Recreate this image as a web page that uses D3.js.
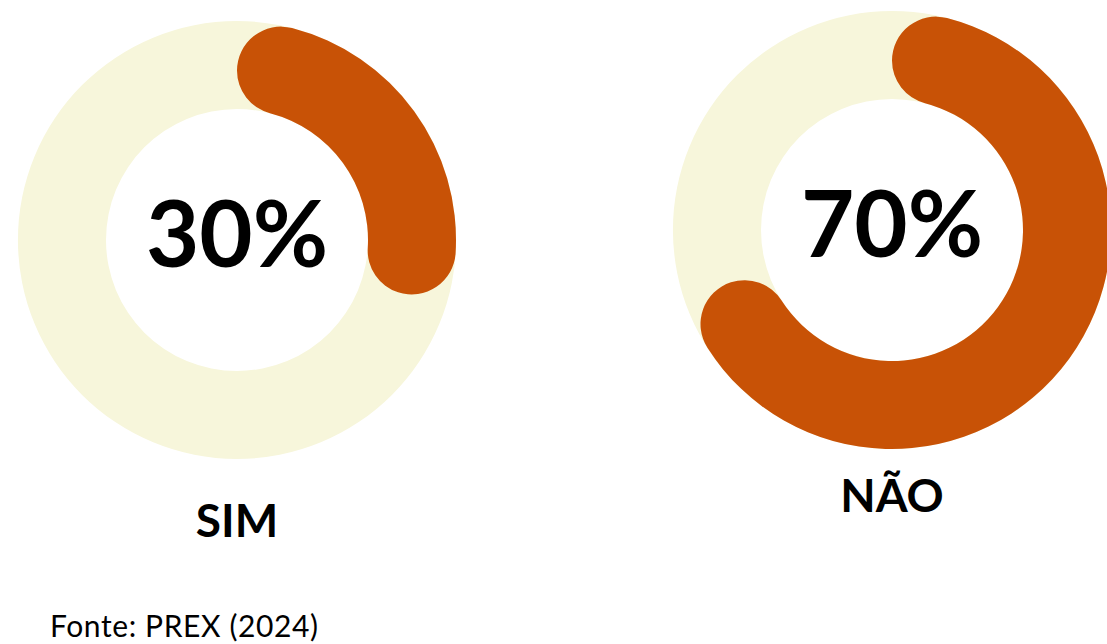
<!DOCTYPE html>
<html>
<head>
<meta charset="utf-8">
<script src="https://cdn.jsdelivr.net/npm/d3@7"></script>
<style>
  html, body { margin: 0; padding: 0; background: #ffffff; overflow: hidden; }
  svg { display: block; }
</style>
</head>
<body>
<script>
// ---- data ----
const categories = ["SIM", "NÃO"];
const values = [30, 70];           // percentages
const total = 100;
const sourceText = "Fonte: PREX (2024)";

// ---- layout ----
const W = 1107, H = 644;
const centers = [{x: 237, y: 240, labelY: 537, valueY: 267},
                 {x: 892, y: 230, labelY: 512, valueY: 257}];
const outerR = 219, innerR = 131;
const colorTrack = "#F7F6DB";
const colorValue = "#C85206";
const fontFam = "Lato, 'Open Sans', sans-serif";

const svg = d3.select("body").append("svg")
  .attr("width", W).attr("height", H);

const angle = d3.scaleLinear().domain([0, total]).range([0, 2 * Math.PI]);

const arc = d3.arc()
  .innerRadius(innerR)
  .outerRadius(outerR);

const g = svg.selectAll("g.donut")
  .data(categories.map((c, i) => ({cat: c, val: values[i], pos: centers[i]})))
  .join("g")
  .attr("class", "donut")
  .attr("transform", d => `translate(${d.pos.x},${d.pos.y})`);

// track ring
g.append("path")
  .attr("d", arc({startAngle: 0, endAngle: 2 * Math.PI}))
  .attr("fill", colorTrack);

// value arc with rounded ends
g.append("path")
  .attr("d", d => arc.cornerRadius((outerR - innerR) / 2)({startAngle: angle(0), endAngle: angle(d.val)}))
  .attr("fill", colorValue);

// value text
g.append("text")
  .attr("x", 0)
  .attr("y", d => d.pos.valueY - d.pos.y)
  .attr("text-anchor", "middle")
  .attr("font-family", fontFam)
  .attr("font-weight", 700)
  .attr("font-size", 92)
  .attr("fill", "#000")
  .text(d => d.val + "%");

// category labels
svg.selectAll("text.cat")
  .data(categories.map((c, i) => ({cat: c, pos: centers[i]})))
  .join("text")
  .attr("class", "cat")
  .attr("x", d => d.pos.x)
  .attr("y", d => d.pos.labelY)
  .attr("text-anchor", "middle")
  .attr("font-family", fontFam)
  .attr("font-weight", 700)
  .attr("font-size", 46)
  .attr("fill", "#000")
  .text(d => d.cat);

// source
svg.append("text")
  .attr("x", 50)
  .attr("y", 637)
  .attr("font-family", fontFam)
  .attr("font-size", 30)
  .attr("letter-spacing", 0.6)
  .attr("fill", "#000")
  .text(sourceText);
</script>
</body>
</html>
